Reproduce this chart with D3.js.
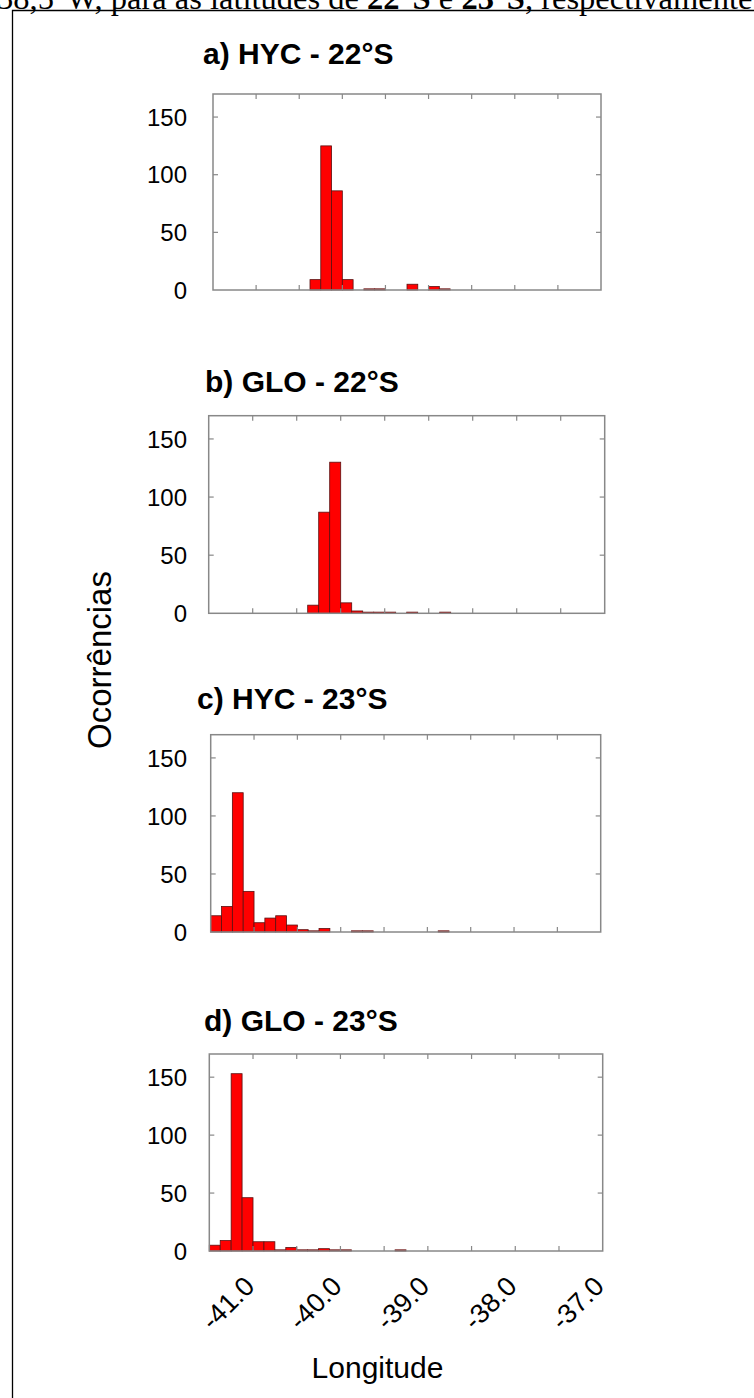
<!DOCTYPE html>
<html>
<head>
<meta charset="utf-8">
<script src="https://cdn.jsdelivr.net/npm/d3@7/dist/d3.min.js"></script>
<style>
  html, body { margin: 0; padding: 0; background: #fff; }
  svg { display: block; }
</style>
</head>
<body>
<svg id="fig" width="754" height="1398"></svg>
<script>
// Longitude bins: 36 classes of 0.125° from -41.5° to -37.0°
const binStart = -41.5;
const binWidth = 0.125;

// Occurrence counts per bin
const hyc22 = [0,0,0,0,0,0,0,0,0,9,125,86,9,0,1,1,0,0,5,0,3,1,0,0,0,0,0,0,0,0,0,0,0,0,0,0];
const glo22 = [0,0,0,0,0,0,0,0,0,7,87,130,9,2,1,1,1,0,1,0,0,1,0,0,0,0,0,0,0,0,0,0,0,0,0,0];
const hyc23 = [14,22,120,35,8,12,14,6,2,1,3,0,0,1,1,0,0,0,0,0,0,1,0,0,0,0,0,0,0,0,0,0,0,0,0,0];
const glo23 = [5,9,153,46,8,8,1,3,1,1,2,1,1,0,0,0,0,1,0,0,0,0,0,0,0,0,0,0,0,0,0,0,0,0,0,0];

const panelTitles = ["a) HYC - 22°S", "b) GLO - 22°S", "c) HYC - 23°S", "d) GLO - 23°S"];
const yTickValues = [0, 50, 100, 150];
const xMinorTicks = [-41.0, -40.5, -40.0, -39.5, -39.0, -38.5, -38.0, -37.5];
const xTickLabels = ["-41.0", "-40.0", "-39.0", "-38.0", "-37.0"];
const xLabelValues = [-41.0, -40.0, -39.0, -38.0, -37.0];
const yAxisTitle = "Ocorrências";
const xAxisTitle = "Longitude";

const series = [hyc22, glo22, hyc23, glo23];

// Frame boxes of the four stacked histograms
const frames = [
  { x0: 213,   x1: 601,   y0: 94,    y1: 290,   tx: 203, ty: 64 },
  { x0: 208.7, x1: 604.7, y0: 415.7, y1: 613.3, tx: 205, ty: 392 },
  { x0: 210.7, x1: 600.7, y0: 734.7, y1: 932,   tx: 197, ty: 709 },
  { x0: 209.3, x1: 602.7, y0: 1054,  y1: 1251,  tx: 204, ty: 1031 }
];

const svg = d3.select("#fig");
const sans = "Liberation Sans, Arial, Helvetica, sans-serif";

// Caption line running above the figure box
const cap = svg.append("text")
  .attr("x", -3).attr("y", 9)
  .attr("font-family", "Liberation Serif, Times New Roman, serif")
  .attr("font-size", 32.5)
  .attr("fill", "#000");
cap.append("tspan").text("38,5°W, para as latitudes de ");
cap.append("tspan").attr("font-weight", "bold").text("22°S");
cap.append("tspan").text(" e ");
cap.append("tspan").attr("font-weight", "bold").text("23°S");
cap.append("tspan").text(", respectivamente.");

// Figure box (open on right and bottom within the page)
svg.append("path")
  .attr("d", "M12.5,1398 V10.5 H754")
  .attr("fill", "none").attr("stroke", "#000").attr("stroke-width", 1.3);

const bins = d3.range(36).map(i => binStart + i * binWidth);

series.forEach((vals, p) => {
  const f = frames[p];
  const x = d3.scaleLinear().domain([-41.5, -37.0]).range([f.x0, f.x1]);
  const y = d3.scaleLinear().domain([0, 170]).range([f.y1, f.y0]);
  const g = svg.append("g");

  // bars
  g.selectAll("rect.bar")
    .data(bins.map((b, i) => ({ b, v: vals[i] })).filter(d => d.v > 0))
    .join("rect")
    .attr("class", "bar")
    .attr("x", d => x(d.b))
    .attr("width", d => x(d.b + binWidth) - x(d.b))
    .attr("y", d => y(d.v))
    .attr("height", d => y(0) - y(d.v))
    .attr("fill", "#ff0000")
    .attr("stroke", "#5a1010")
    .attr("stroke-width", 0.8);

  // frame
  g.append("rect")
    .attr("x", f.x0).attr("y", f.y0)
    .attr("width", f.x1 - f.x0).attr("height", f.y1 - f.y0)
    .attr("fill", "none").attr("stroke", "#888").attr("stroke-width", 1.5);

  // inward ticks on all four sides
  const tl = 5;
  const ticks = g.append("g").attr("stroke", "#888").attr("stroke-width", 1.2);
  xMinorTicks.forEach(v => {
    ticks.append("line").attr("x1", x(v)).attr("x2", x(v)).attr("y1", f.y0).attr("y2", f.y0 + tl);
    ticks.append("line").attr("x1", x(v)).attr("x2", x(v)).attr("y1", f.y1).attr("y2", f.y1 - tl);
  });
  yTickValues.slice(1).forEach(v => {
    ticks.append("line").attr("x1", f.x0).attr("x2", f.x0 + tl).attr("y1", y(v)).attr("y2", y(v));
    ticks.append("line").attr("x1", f.x1).attr("x2", f.x1 - tl).attr("y1", y(v)).attr("y2", y(v));
  });

  // y tick labels
  g.selectAll("text.yt")
    .data(yTickValues)
    .join("text")
    .attr("class", "yt")
    .attr("x", 187)
    .attr("y", d => y(d))
    .attr("dy", "0.36em")
    .attr("text-anchor", "end")
    .attr("font-family", sans)
    .attr("font-size", 24)
    .attr("fill", "#000")
    .text(d => d);

  // panel title
  g.append("text")
    .attr("x", f.tx).attr("y", f.ty)
    .attr("font-family", sans)
    .attr("font-weight", "bold")
    .attr("font-size", 30)
    .attr("fill", "#000")
    .text(panelTitles[p]);

  // rotated longitude labels under the last panel
  if (p === series.length - 1) {
    g.selectAll("text.xt")
      .data(xLabelValues)
      .join("text")
      .attr("class", "xt")
      .attr("transform", (d) => `translate(${x(d) + 3},${f.y1 + 37}) rotate(-45)`)
      .attr("text-anchor", "end")
      .attr("font-family", sans)
      .attr("font-size", 27)
      .attr("fill", "#000")
      .text((d, i) => xTickLabels[i]);
  }
});

// axis titles
svg.append("text")
  .attr("transform", "translate(111,660) rotate(-90)")
  .attr("text-anchor", "middle")
  .attr("font-family", sans)
  .attr("font-size", 33)
  .attr("fill", "#000")
  .text(yAxisTitle);

svg.append("text")
  .attr("x", 377.5).attr("y", 1378)
  .attr("text-anchor", "middle")
  .attr("font-family", sans)
  .attr("font-size", 30)
  .attr("fill", "#000")
  .text(xAxisTitle);
</script>
</body>
</html>
